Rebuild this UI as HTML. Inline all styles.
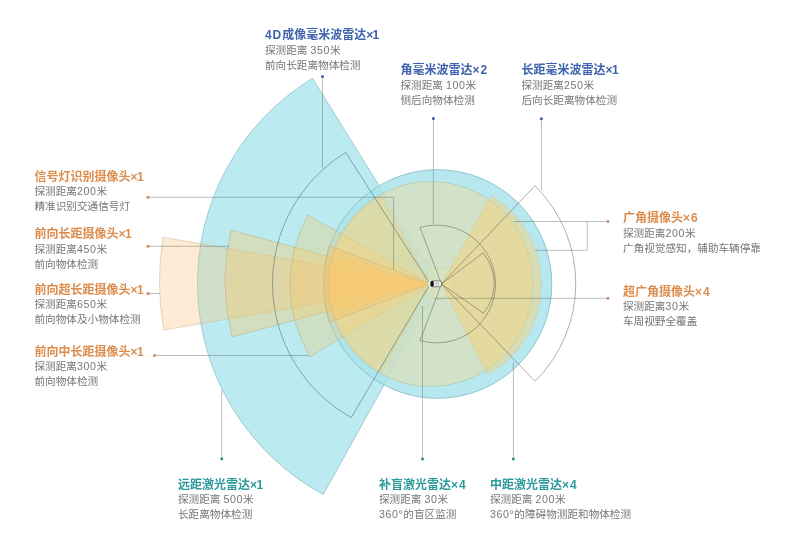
<!DOCTYPE html>
<html lang="zh-CN"><head><meta charset="utf-8"><title>传感器布局</title>
<style>
html,body{margin:0;padding:0;background:#fff;}
body{width:800px;height:551px;overflow:hidden;position:relative;font-family:"Liberation Sans","Noto Sans CJK SC",sans-serif;}
#g{position:absolute;left:0;top:0;filter:blur(0.4px);}
.lb{filter:blur(0.3px);}
.lb{position:absolute;white-space:nowrap;}
.lb .t{font-weight:bold;font-size:12px;line-height:15px;height:15px;}
.n4{letter-spacing:0.9px;}
.x1{letter-spacing:-0.6px;}
.x2{letter-spacing:1.1px;}
.n{letter-spacing:0.6px;}
.lb .s{font-size:10.62px;line-height:15px;height:15px;color:#767676;}
.b .t{color:#3f63ad;}
.o .t{color:#dc8c4c;}
.t .t{color:#2f9a9c;}
</style></head><body>
<svg id="g" width="800" height="551" viewBox="0 0 800 551">
<path d="M440,284 L312.5,78.25 A240.25,240.25 0 0 0 323.25,494.5 Z" fill="#bbebf1" stroke="#8fc0c4" stroke-width="0.8" stroke-linejoin="round"/>
<circle cx="437.5" cy="284" r="114.3" fill="#aae4ec" fill-opacity="0.85" stroke="#8fc4cc" stroke-width="1"/>
<circle cx="438.5" cy="283.5" r="16" fill="#c8ead8" fill-opacity="0.5" stroke="#aebfa0" stroke-opacity="0.7" stroke-width="0.7"/>
<path d="M430,284 L163,237.2 A279.52,279.52 0 0 0 163.75,330 Z" fill="#f9c483" fill-opacity="0.34" stroke="#c9b48c" stroke-opacity="0.7" stroke-width="0.7"/>
<path d="M430,284 L231,230 A223.28,223.28 0 0 0 232,337 Z" fill="#fac864" fill-opacity="0.37" stroke="#b5ae88" stroke-opacity="0.7" stroke-width="0.7"/>
<path d="M430,284 L308,215 A141.78,141.78 0 0 0 310,356.75 Z" fill="#fac864" fill-opacity="0.30" stroke="#b5ae88" stroke-opacity="0.7" stroke-width="0.7"/>
<circle cx="430.5" cy="284" r="102.5" fill="#fbd98f" fill-opacity="0.40" stroke="#b5c3a5" stroke-opacity="0.8" stroke-width="0.8"/>
<path d="M441.5,284 L491.25,195.75 A102.73,102.73 0 0 1 487.5,374.5 Z" fill="#ffcd64" fill-opacity="0.40" stroke="#c9c59a" stroke-opacity="0.6" stroke-width="0.7"/>
<path d="M430.5,284 L380.98,372.6 A101.5,101.5 0 0 1 380.98,195.4 Z" fill="#ffcd64" fill-opacity="0.30" stroke="#c9c59a" stroke-opacity="0.6" stroke-width="0.7"/>
<path d="M430,284 L329,245.5 A166.94,166.94 0 0 0 329,322.5 Z" fill="#fdbf5f" fill-opacity="0.38" stroke="#c4b183" stroke-opacity="0.7" stroke-width="0.7"/>
<path d="M430,284 L345.75,152.5 A153.56,153.56 0 0 0 351.25,417.5 Z" fill="none" stroke="#3d6a78" stroke-opacity="0.6" stroke-width="0.9" stroke-linejoin="round"/>
<path d="M441.5,284 L535,185.75 A137.61,137.61 0 0 1 535,381.25 Z" fill="none" stroke="#4a4d5c" stroke-opacity="0.5" stroke-width="0.9" stroke-linejoin="round"/>
<path d="M441.5,284 L420,227.5 A58.89,58.89 0 1 1 420,340.5 Z" fill="none" stroke="#4a5048" stroke-opacity="0.5" stroke-width="0.9" stroke-linejoin="round"/>
<path d="M441.5,284 L483,253 A46.91,46.91 0 0 1 483.5,313.25 Z" fill="none" stroke="#4a5048" stroke-opacity="0.5" stroke-width="0.9" stroke-linejoin="round"/>
<path d="M322.5,77 L322.5,167.5" fill="none" stroke="#55605c" stroke-opacity="0.5" stroke-width="0.8"/>
<circle cx="322.5" cy="76.5" r="1.5" fill="#3e5ea8"/>
<path d="M433.4,118 L433.4,224" fill="none" stroke="#55605c" stroke-opacity="0.5" stroke-width="0.8"/>
<circle cx="433.4" cy="118.5" r="1.5" fill="#3e5ea8"/>
<path d="M541.4,118 L541.4,190" fill="none" stroke="#55605c" stroke-opacity="0.5" stroke-width="0.8"/>
<circle cx="541.4" cy="118.8" r="1.5" fill="#3e5ea8"/>
<path d="M148,197.3 L393.6,197.3 L393.6,269.5" fill="none" stroke="#55605c" stroke-opacity="0.5" stroke-width="0.8"/>
<circle cx="148" cy="197.2" r="1.5" fill="#d08a58"/>
<path d="M148,246.25 L229,246.25" fill="none" stroke="#55605c" stroke-opacity="0.5" stroke-width="0.8"/>
<circle cx="148" cy="246.25" r="1.5" fill="#d08a58"/>
<path d="M148,293.5 L160,293.5" fill="none" stroke="#55605c" stroke-opacity="0.5" stroke-width="0.8"/>
<circle cx="148" cy="293.5" r="1.5" fill="#d08a58"/>
<path d="M154.5,355.5 L308.75,355.5" fill="none" stroke="#55605c" stroke-opacity="0.5" stroke-width="0.8"/>
<circle cx="154.5" cy="355.5" r="1.5" fill="#d08a58"/>
<path d="M221.75,458.75 L221.75,389.75" fill="none" stroke="#55605c" stroke-opacity="0.5" stroke-width="0.8"/>
<circle cx="221.75" cy="458.75" r="1.5" fill="#2b8f92"/>
<path d="M422.5,459 L422.5,306" fill="none" stroke="#55605c" stroke-opacity="0.5" stroke-width="0.8"/>
<circle cx="422.5" cy="459" r="1.5" fill="#2b8f92"/>
<path d="M513.4,459 L513.4,362.5" fill="none" stroke="#55605c" stroke-opacity="0.5" stroke-width="0.8"/>
<circle cx="513.4" cy="459" r="1.5" fill="#2b8f92"/>
<path d="M608,221.5 L513.75,221.5" fill="none" stroke="#55605c" stroke-opacity="0.5" stroke-width="0.8"/>
<path d="M587.3,221.5 L587.3,250.3 L535,250.3" fill="none" stroke="#55605c" stroke-opacity="0.5" stroke-width="0.8"/>
<circle cx="608" cy="221.5" r="1.5" fill="#d08a58"/>
<path d="M608,298.25 L434.5,298.25" fill="none" stroke="#55605c" stroke-opacity="0.5" stroke-width="0.8"/>
<circle cx="608" cy="298.25" r="1.5" fill="#d08a58"/>
<ellipse cx="430.6" cy="283.8" rx="2.3" ry="3.6" fill="#fff" fill-opacity="0.8"/>
<rect x="430.6" y="280.9" width="10.9" height="5.8" rx="1.9" fill="#f6f6f6" stroke="#3a3a3a" stroke-width="0.6"/>
<rect x="430.6" y="281" width="3.1" height="5.6" rx="1.4" fill="#111"/>
<rect x="434.8" y="282.2" width="4.6" height="3.2" rx="0.6" fill="#cfcfcf"/>
</svg>
<div class="lb b" style="left:265px;top:28.30px"><div class="t"><span class="n4">4D</span>成像毫米波雷达<span class="x1">×1</span></div></div>
<div class="lb" style="left:265px;top:42.60px"><div class="s">探测距离 <span class="n">350</span>米</div><div class="s">前向长距离物体检测</div></div>
<div class="lb b" style="left:400.5px;top:63.20px"><div class="t">角毫米波雷达<span class="x2">×2</span></div></div>
<div class="lb" style="left:400.5px;top:77.50px"><div class="s">探测距离 <span class="n">100</span>米</div><div class="s">侧后向物体检测</div></div>
<div class="lb b" style="left:521.5px;top:63.20px"><div class="t">长距毫米波雷达<span class="x1">×1</span></div></div>
<div class="lb" style="left:521.5px;top:77.50px"><div class="s">探测距离<span class="n">250</span>米</div><div class="s">后向长距离物体检测</div></div>
<div class="lb o" style="left:34.5px;top:170.00px"><div class="t">信号灯识别摄像头<span class="x1">×1</span></div></div>
<div class="lb" style="left:34.5px;top:184.30px"><div class="s">探测距离<span class="n">200</span>米</div><div class="s">精准识别交通信号灯</div></div>
<div class="lb o" style="left:34.5px;top:227.45px"><div class="t">前向长距摄像头<span class="x1">×1</span></div></div>
<div class="lb" style="left:34.5px;top:241.75px"><div class="s">探测距离<span class="n">450</span>米</div><div class="s">前向物体检测</div></div>
<div class="lb o" style="left:34.5px;top:282.95px"><div class="t">前向超长距摄像头<span class="x1">×1</span></div></div>
<div class="lb" style="left:34.5px;top:297.25px"><div class="s">探测距离<span class="n">650</span>米</div><div class="s">前向物体及小物体检测</div></div>
<div class="lb o" style="left:34.5px;top:344.70px"><div class="t">前向中长距摄像头<span class="x1">×1</span></div></div>
<div class="lb" style="left:34.5px;top:359.00px"><div class="s">探测距离<span class="n">300</span>米</div><div class="s">前向物体检测</div></div>
<div class="lb t" style="left:178px;top:478.00px"><div class="t">远距激光雷达<span class="x1">×1</span></div></div>
<div class="lb" style="left:178px;top:492.30px"><div class="s">探测距离 <span class="n">500</span>米</div><div class="s">长距离物体检测</div></div>
<div class="lb t" style="left:379px;top:478.00px"><div class="t">补盲激光雷达<span class="x2">×4</span></div></div>
<div class="lb" style="left:379px;top:492.30px"><div class="s">探测距离 <span class="n">30</span>米</div><div class="s"><span class="n">360°</span>的盲区监测</div></div>
<div class="lb t" style="left:490px;top:478.00px"><div class="t">中距激光雷达<span class="x2">×4</span></div></div>
<div class="lb" style="left:490px;top:492.30px"><div class="s">探测距离 <span class="n">200</span>米</div><div class="s"><span class="n">360°</span>的障碍物测距和物体检测</div></div>
<div class="lb o" style="left:623px;top:211.40px"><div class="t">广角摄像头<span class="x2">×6</span></div></div>
<div class="lb" style="left:623px;top:225.70px"><div class="s">探测距离<span class="n">200</span>米</div><div class="s">广角视觉感知，辅助车辆停靠</div></div>
<div class="lb o" style="left:623px;top:284.90px"><div class="t">超广角摄像头<span class="x2">×4</span></div></div>
<div class="lb" style="left:623px;top:299.20px"><div class="s">探测距离<span class="n">30</span>米</div><div class="s">车周视野全覆盖</div></div>
</body></html>
